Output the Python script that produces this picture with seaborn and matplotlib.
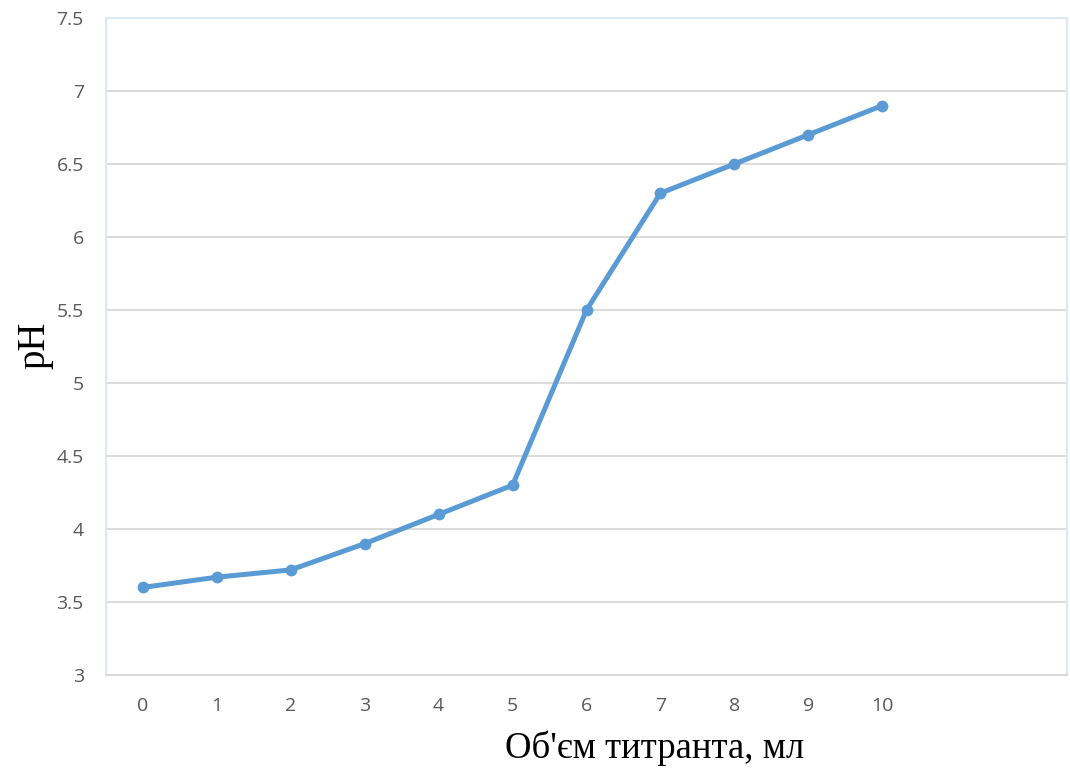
import matplotlib
matplotlib.use("Agg")
import matplotlib.pyplot as plt
import seaborn as sns
import pandas as pd

volume = [0, 1, 2, 3, 4, 5, 6, 7, 8, 9, 10]
ph = [3.6, 3.67, 3.72, 3.9, 4.1, 4.3, 5.5, 6.3, 6.5, 6.7, 6.9]
y_ticks = [3, 3.5, 4, 4.5, 5, 5.5, 6, 6.5, 7, 7.5]
y_tick_labels = ["3", "3.5", "4", "4.5", "5", "5.5", "6", "6.5", "7", "7.5"]

sns.set_theme(style="white")
plt.rcParams['font.family'] = ['Open Sans', 'DejaVu Sans']

df = pd.DataFrame({"volume": volume, "ph": ph})

fig = plt.figure(figsize=(10.7, 7.71), dpi=100)
ax = fig.add_axes([106/1070, 1 - 675/771, (1067-106)/1070, (675-18)/771])

for y in y_ticks[1:-1]:
    ax.axhline(y, color="#d9d9d9", lw=1.3, zorder=0)

sns.lineplot(data=df, x="volume", y="ph", ax=ax, color="#5b9bd5", lw=3.6,
             marker="o", markersize=8.5, markeredgewidth=0, zorder=3)

ax.set_xlim(-0.5, 12.5)
ax.set_ylim(3, 7.5)
ax.set_xticks(volume)
ax.set_xticklabels([str(v) for v in volume])
ax.set_yticks(y_ticks)
ax.set_yticklabels(y_tick_labels)
ax.tick_params(axis="both", length=0, labelsize=14, labelcolor="#595959")
ax.tick_params(axis="x", pad=16)
ax.tick_params(axis="y", pad=16)

for side in ["left", "right", "top"]:
    ax.spines[side].set_color("#dce8f4")
    ax.spines[side].set_linewidth(1.5)
ax.spines["bottom"].set_color("#d9d9d9")
ax.spines["bottom"].set_linewidth(1.5)

ax.set_xlabel("")
ax.set_ylabel("")
fig.text(655/1070, 1 - 748/771, "Об'єм титранта, мл", family=["Liberation Serif"],
         fontsize=26.5, color="black", ha="center", va="center")
fig.text(35/1070, 1 - 345/771, "pH", family=["Liberation Serif"],
         fontsize=28, color="black", ha="center", va="center", rotation=90)

fig.savefig("out.png", dpi=100)
